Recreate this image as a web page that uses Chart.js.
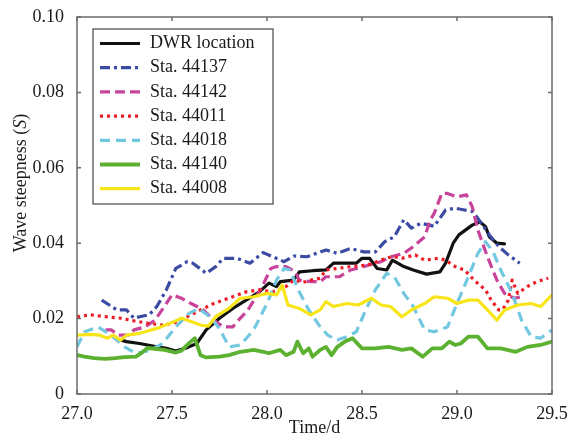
<!DOCTYPE html>
<html>
<head>
<meta charset="utf-8">
<script src="https://cdn.jsdelivr.net/npm/chart.js@4.4.1/dist/chart.umd.min.js"></script>
<style>
  html, body { margin: 0; padding: 0; background: #fff; }
  #wrap { width: 579px; height: 442px; }
</style>
</head>
<body>
<div id="wrap"><canvas id="steep"></canvas></div>
<script>
// tick positions / labels
const xTicks = [27.0, 27.5, 28.0, 28.5, 29.0, 29.5];
const xTickLabels = ['27.0', '27.5', '28.0', '28.5', '29.0', '29.5'];
const yTicks = [0, 0.02, 0.04, 0.06, 0.08, 0.10];
const yTickLabels = ['0', '0.02', '0.04', '0.06', '0.08', '0.10'];

// series: [time (d), wave steepness S]
const dwr = [[27.20,0.0148],[27.26,0.0139],[27.33,0.0134],[27.42,0.0125],[27.47,0.0121],[27.52,0.0114],[27.58,0.0123],[27.63,0.0134],[27.68,0.017],[27.75,0.0201],[27.82,0.0227],[27.89,0.0249],[27.96,0.0271],[28.01,0.0294],[28.05,0.0285],[28.07,0.0298],[28.14,0.0302],[28.17,0.0324],[28.24,0.0327],[28.31,0.0329],[28.35,0.0347],[28.42,0.0347],[28.47,0.0347],[28.50,0.036],[28.54,0.036],[28.58,0.0333],[28.63,0.0329],[28.66,0.0355],[28.72,0.0338],[28.77,0.0329],[28.84,0.0318],[28.91,0.0324],[28.94,0.0347],[28.98,0.040],[29.01,0.0422],[29.08,0.0448],[29.12,0.0457],[29.15,0.0444],[29.17,0.0417],[29.21,0.040],[29.25,0.0398]];
const sta44137 = [[27.13,0.0249],[27.17,0.0236],[27.21,0.0223],[27.26,0.0223],[27.30,0.0201],[27.33,0.0205],[27.38,0.021],[27.42,0.0232],[27.47,0.0276],[27.52,0.0333],[27.58,0.0351],[27.61,0.0347],[27.68,0.032],[27.73,0.0338],[27.77,0.036],[27.84,0.036],[27.91,0.0347],[27.98,0.0375],[28.03,0.0364],[28.09,0.0351],[28.14,0.0366],[28.21,0.0364],[28.26,0.0373],[28.31,0.0382],[28.37,0.0373],[28.44,0.0386],[28.51,0.0377],[28.57,0.0377],[28.62,0.0404],[28.67,0.0417],[28.72,0.0462],[28.76,0.044],[28.81,0.0453],[28.88,0.0445],[28.94,0.0488],[28.99,0.0493],[29.04,0.0488],[29.08,0.0484],[29.11,0.0466],[29.17,0.0422],[29.22,0.0391],[29.27,0.0369],[29.33,0.0347]];
const sta44142 = [[27.15,0.017],[27.18,0.017],[27.22,0.0156],[27.27,0.0156],[27.30,0.017],[27.36,0.0178],[27.41,0.0196],[27.46,0.0232],[27.50,0.0263],[27.55,0.0254],[27.60,0.024],[27.66,0.0225],[27.72,0.0196],[27.77,0.0178],[27.82,0.0178],[27.85,0.0196],[27.90,0.0223],[27.97,0.028],[28.02,0.0333],[28.05,0.0338],[28.10,0.0338],[28.15,0.0324],[28.17,0.0302],[28.23,0.0298],[28.28,0.0298],[28.31,0.0311],[28.38,0.0311],[28.44,0.0329],[28.51,0.0338],[28.60,0.0351],[28.65,0.0364],[28.72,0.0373],[28.77,0.0391],[28.83,0.0417],[28.86,0.0462],[28.88,0.0479],[28.92,0.0532],[28.95,0.0532],[29.00,0.0523],[29.05,0.0528],[29.08,0.0497],[29.11,0.0435],[29.16,0.0364],[29.21,0.0302],[29.25,0.0267],[29.30,0.0254],[29.34,0.0258]];
const sta44011 = [[27.00,0.0205],[27.07,0.021],[27.15,0.0205],[27.23,0.0201],[27.30,0.0194],[27.37,0.0188],[27.45,0.0183],[27.51,0.0188],[27.58,0.0205],[27.65,0.0223],[27.72,0.024],[27.82,0.0258],[27.89,0.0271],[27.96,0.0276],[28.03,0.0271],[28.10,0.0285],[28.14,0.0302],[28.19,0.0296],[28.23,0.0302],[28.28,0.0307],[28.31,0.0329],[28.37,0.0333],[28.44,0.0338],[28.53,0.0342],[28.60,0.0355],[28.66,0.0365],[28.71,0.036],[28.78,0.0369],[28.83,0.0355],[28.90,0.036],[28.94,0.0355],[28.99,0.0338],[29.04,0.0329],[29.09,0.0302],[29.15,0.0276],[29.18,0.0249],[29.22,0.0223],[29.24,0.0223],[29.27,0.0249],[29.29,0.0302],[29.32,0.0267],[29.37,0.0285],[29.42,0.0298],[29.48,0.0307]];
const sta44018 = [[27.00,0.0125],[27.04,0.0165],[27.11,0.0178],[27.18,0.0156],[27.25,0.0125],[27.31,0.0108],[27.38,0.0115],[27.45,0.0134],[27.52,0.0178],[27.59,0.0214],[27.64,0.0227],[27.70,0.0205],[27.75,0.0174],[27.80,0.0125],[27.86,0.013],[27.93,0.017],[28.00,0.024],[28.05,0.0302],[28.09,0.0333],[28.12,0.0329],[28.17,0.0271],[28.22,0.0223],[28.28,0.0178],[28.32,0.0156],[28.37,0.0143],[28.42,0.0152],[28.47,0.0165],[28.52,0.0223],[28.57,0.0276],[28.63,0.032],[28.67,0.0311],[28.72,0.0267],[28.77,0.0232],[28.83,0.017],[28.88,0.0165],[28.95,0.0178],[29.00,0.024],[29.06,0.0311],[29.11,0.0373],[29.15,0.0404],[29.19,0.0377],[29.23,0.0329],[29.29,0.0267],[29.34,0.0196],[29.39,0.0152],[29.44,0.0148],[29.50,0.017]];
const sta44140 = [[27.00,0.0103],[27.04,0.0099],[27.09,0.0095],[27.15,0.0093],[27.20,0.0095],[27.25,0.0098],[27.31,0.0099],[27.34,0.0109],[27.37,0.0122],[27.41,0.012],[27.46,0.0117],[27.52,0.011],[27.55,0.0115],[27.59,0.0135],[27.62,0.0148],[27.65,0.0103],[27.68,0.0097],[27.75,0.0099],[27.80,0.0103],[27.86,0.0112],[27.93,0.0117],[27.98,0.0112],[28.01,0.0108],[28.07,0.0117],[28.10,0.0103],[28.14,0.0112],[28.16,0.0139],[28.19,0.0108],[28.22,0.0121],[28.24,0.0099],[28.28,0.0117],[28.31,0.0125],[28.34,0.0103],[28.37,0.0125],[28.41,0.0139],[28.45,0.0148],[28.50,0.0121],[28.57,0.0121],[28.64,0.0125],[28.71,0.0117],[28.76,0.0121],[28.82,0.0099],[28.87,0.0121],[28.92,0.0121],[28.96,0.0139],[28.99,0.013],[29.02,0.0134],[29.06,0.0152],[29.11,0.0152],[29.16,0.0121],[29.23,0.0121],[29.31,0.0112],[29.37,0.0125],[29.44,0.013],[29.50,0.0139]];
const sta44008 = [[27.00,0.0156],[27.07,0.0158],[27.12,0.0156],[27.16,0.0148],[27.19,0.0156],[27.23,0.0143],[27.26,0.0156],[27.33,0.0161],[27.42,0.0174],[27.51,0.0192],[27.55,0.0201],[27.60,0.0192],[27.65,0.0183],[27.69,0.018],[27.73,0.0205],[27.80,0.0227],[27.86,0.0254],[27.93,0.0258],[28.00,0.0267],[28.05,0.0263],[28.08,0.0289],[28.11,0.0236],[28.17,0.0227],[28.23,0.021],[28.28,0.0223],[28.31,0.0245],[28.35,0.0232],[28.42,0.024],[28.48,0.0236],[28.55,0.0254],[28.60,0.0236],[28.65,0.0232],[28.71,0.0205],[28.76,0.0223],[28.83,0.024],[28.88,0.0258],[28.95,0.0254],[29.00,0.024],[29.06,0.0249],[29.11,0.0249],[29.16,0.0223],[29.21,0.0196],[29.25,0.0223],[29.32,0.0236],[29.39,0.024],[29.44,0.0232],[29.50,0.0263]];

const serif = '"Liberation Serif", "Times New Roman", serif';

function series(label, pts, color, dash, width) {
  return {
    label: label,
    data: pts.map(p => ({ x: p[0], y: p[1] })),
    borderColor: color,
    backgroundColor: color,
    borderWidth: width,
    borderDash: dash,
    borderCapStyle: dash.length ? 'butt' : 'round',
    borderJoinStyle: 'round',
    pointRadius: 0,
    tension: 0,
    fill: false
  };
}

const datasets = [
  series('DWR location', dwr, '#111111', [], 3.2),
  series('Sta. 44137', sta44137, '#3b4aa3', [10, 4, 3, 4], 3.2),
  series('Sta. 44142', sta44142, '#c8449b', [10, 5], 3.2),
  series('Sta. 44011', sta44011, '#ee1c25', [3, 4], 3.2),
  series('Sta. 44018', sta44018, '#72c8e1', [10, 6], 3.2),
  series('Sta. 44140', sta44140, '#5cb131', [], 3.8),
  series('Sta. 44008', sta44008, '#f7e51a', [], 3.2)
];
// later series painted on top
datasets.forEach((d, i) => { d.order = datasets.length - i; });

// box round the plot with inward ticks on all four sides
const framePlugin = {
  id: 'frame',
  afterDatasetsDraw(chart) {
    const { ctx, chartArea: a, scales } = chart;
    ctx.save();
    ctx.strokeStyle = '#6b6b6b';
    ctx.lineWidth = 1.5;
    ctx.strokeRect(a.left, a.top, a.right - a.left, a.bottom - a.top);
    ctx.beginPath();
    xTicks.forEach(v => {
      const px = scales.x.getPixelForValue(v);
      ctx.moveTo(px, a.bottom); ctx.lineTo(px, a.bottom - 4);
      ctx.moveTo(px, a.top); ctx.lineTo(px, a.top + 4);
    });
    yTicks.forEach(v => {
      const py = scales.y.getPixelForValue(v);
      ctx.moveTo(a.left, py); ctx.lineTo(a.left + 4, py);
      ctx.moveTo(a.right, py); ctx.lineTo(a.right - 4, py);
    });
    ctx.stroke();
    ctx.restore();
  }
};

// boxed legend in the upper left of the plot
const legendPlugin = {
  id: 'boxLegend',
  afterDraw(chart) {
    const { ctx, chartArea: a } = chart;
    const left = a.left + 16, top = a.top + 12, w = 180, h = 175, rowH = 24.2;
    ctx.save();
    ctx.fillStyle = '#fff';
    ctx.fillRect(left, top, w, h);
    ctx.strokeStyle = '#555';
    ctx.lineWidth = 1.3;
    ctx.strokeRect(left, top, w, h);
    ctx.font = '18px ' + serif;
    ctx.textBaseline = 'middle';
    chart.data.datasets.forEach((d, i) => {
      const y = top + 14.5 + i * rowH;
      ctx.beginPath();
      ctx.strokeStyle = d.borderColor;
      ctx.lineWidth = d.borderWidth;
      ctx.setLineDash(d.borderDash);
      ctx.moveTo(left + 7, y);
      ctx.lineTo(left + 47, y);
      ctx.stroke();
      ctx.setLineDash([]);
      ctx.fillStyle = '#1a1a1a';
      ctx.fillText(d.label, left + 57, y);
    });
    ctx.restore();
  }
};

// y title with italic S
const yTitlePlugin = {
  id: 'yTitle',
  afterDraw(chart) {
    const { ctx } = chart;
    const plain = '18px ' + serif, ital = 'italic 18px ' + serif;
    const parts = [['Wave steepness (', plain], ['S', ital], [')', plain]];
    ctx.save();
    let total = 0;
    parts.forEach(p => { ctx.font = p[1]; total += ctx.measureText(p[0]).width; });
    ctx.translate(21, 183);
    ctx.rotate(-Math.PI / 2);
    ctx.fillStyle = '#1a1a1a';
    ctx.textBaseline = 'middle';
    let x = -total / 2;
    parts.forEach(p => { ctx.font = p[1]; ctx.fillText(p[0], x, 0); x += ctx.measureText(p[0]).width; });
    ctx.restore();
  }
};

document.addEventListener('DOMContentLoaded', () => {
  const ctxSteep = document.getElementById('steep').getContext('2d');
  new Chart(ctxSteep, {
    type: 'line',
    data: { datasets: datasets },
    options: {
      responsive: true,
      maintainAspectRatio: false,
      animation: false,
      layout: { padding: { top: 17, right: 27, left: 0, bottom: 0 } },
      plugins: { legend: { display: false }, tooltip: { enabled: false } },
      scales: {
        x: {
          type: 'linear',
          min: 27.0,
          max: 29.5,
          afterFit: s => { s.height = 48; },
          afterBuildTicks: s => { s.ticks = xTicks.map(v => ({ value: v })); },
          ticks: {
            font: { family: serif, size: 18 },
            color: '#1a1a1a',
            padding: 1,
            maxRotation: 0,
            callback: v => xTickLabels[xTicks.indexOf(v)]
          },
          grid: { display: false },
          border: { display: false },
          title: { display: true, text: 'Time/d', font: { family: serif, size: 18 }, color: '#1a1a1a', padding: { top: 0, bottom: 3 } }
        },
        y: {
          min: 0,
          max: 0.1,
          afterFit: s => { s.width = 77; },
          afterBuildTicks: s => { s.ticks = yTicks.map(v => ({ value: v })); },
          ticks: {
            font: { family: serif, size: 18 },
            color: '#1a1a1a',
            padding: 5,
            callback: v => yTickLabels[yTicks.indexOf(v)]
          },
          grid: { display: false },
          border: { display: false }
        }
      }
    },
    plugins: [framePlugin, legendPlugin, yTitlePlugin]
  });
});
</script>
</body>
</html>
